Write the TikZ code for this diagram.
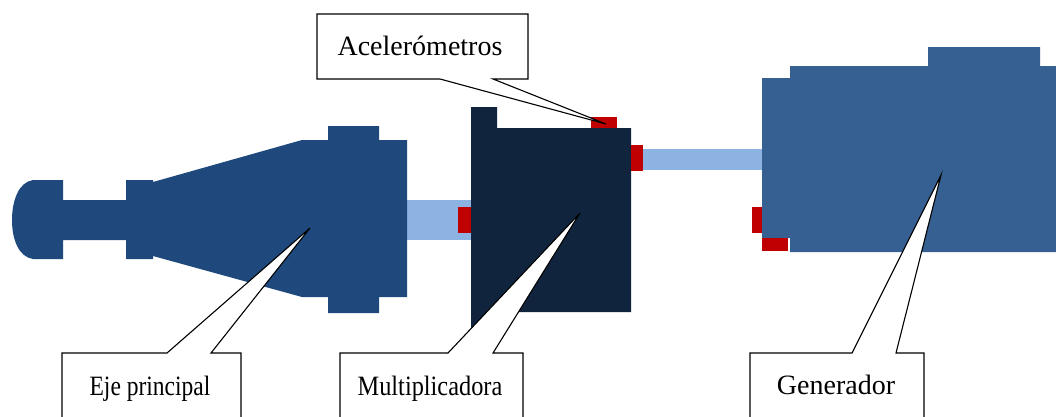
\documentclass[tikz,border=0pt]{standalone}
\usepackage{fontspec}
\setmainfont{Liberation Serif}
\definecolor{ejeblue}{HTML}{1F497D}
\definecolor{multnavy}{HTML}{10243E}
\definecolor{genblue}{HTML}{366092}
\definecolor{shaftblue}{HTML}{8DB3E2}
\definecolor{sensorred}{HTML}{C00000}
\tikzset{
  part/.style={draw=none},
  sensor/.style={fill=sensorred, draw=none},
  shaft/.style={fill=shaftblue, draw=none},
  callout/.style={draw=black, fill=white, line width=1.1pt, line join=miter},
  label/.style={anchor=base, inner sep=0pt, font=\fontsize{28}{33}\selectfont}
}
\begin{document}
\begin{tikzpicture}[x=1pt, y=-1pt]
\useasboundingbox (0,0) rectangle (1056,416);
\clip (0,0) rectangle (1056,416);

% shafts between the machines
\fill[shaft] (400,200) rectangle (471,240);
\fill[shaft] (631,149) rectangle (764,170);

% main shaft (eje principal)
\fill[part, ejeblue] (33,180) -- (63,180) -- (63,200) -- (126,200) -- (126,180)
  -- (153,180) -- (153,182) -- (302,140) -- (328,140) -- (328,126) -- (379,126)
  -- (379,140) -- (407,140) -- (407,297) -- (379,297) -- (379,313) -- (328,313)
  -- (328,297) -- (302,297) -- (153,256) -- (153,259) -- (126,259) -- (126,240)
  -- (63,240) -- (63,259) -- (33,259)
  .. controls (19,257) and (12,240) .. (12,220)
  .. controls (12,200) and (19,182) .. (33,180) -- cycle;

% gearbox (multiplicadora)
\fill[part, multnavy] (471,107) -- (497,107) -- (497,128) -- (631,128) -- (631,312)
  -- (497,312) -- (497,333) -- (471,333) -- cycle;

% generator
\fill[part, genblue] (762,78) -- (790,78) -- (790,66) -- (928,66) -- (928,47)
  -- (1040,47) -- (1040,66) -- (1060,66) -- (1060,252) -- (790,252) -- (790,238)
  -- (762,238) -- cycle;

% accelerometers
\fill[sensor] (458,207) rectangle (471,233);
\fill[sensor] (591,117) rectangle (617,128);
\fill[sensor] (631,145) rectangle (643,171);
\fill[sensor] (752,207) rectangle (762,233);
\fill[sensor] (762,238) rectangle (788,251);

% callout pointer tips
\coordinate (acelTip) at (606,124);
\coordinate (ejeTip) at (310,228);
\coordinate (multTip) at (580,213);
\coordinate (genTip) at (941,175);

% callouts
\draw[callout] (317,14) -- (528,14) -- (528,79) -- (493,79) -- (acelTip)
  -- (440,79) -- (317,79) -- cycle;
\draw[callout] (62,353) -- (167,353) -- (ejeTip) -- (211,353) -- (241,353)
  -- (241,440) -- (62,440) -- cycle;
\draw[callout] (340,353) -- (448,353) -- (multTip) -- (493,353) -- (523,353)
  -- (523,440) -- (340,440) -- cycle;
\draw[callout] (750,353) -- (852,353) -- (genTip) -- (896,353) -- (924,353)
  -- (924,440) -- (750,440) -- cycle;

% callout texts
\node[label] (acel) at (420,55) {Acelerómetros};
\node[label] (eje) at (150,395) {\scalebox{0.84}[1]{Eje principal}};
\node[label] (mult) at (430,395) {\scalebox{0.87}[1]{Multiplicadora}};
\node[label] (gen) at (836,394) {Generador};
\end{tikzpicture}
\end{document}
